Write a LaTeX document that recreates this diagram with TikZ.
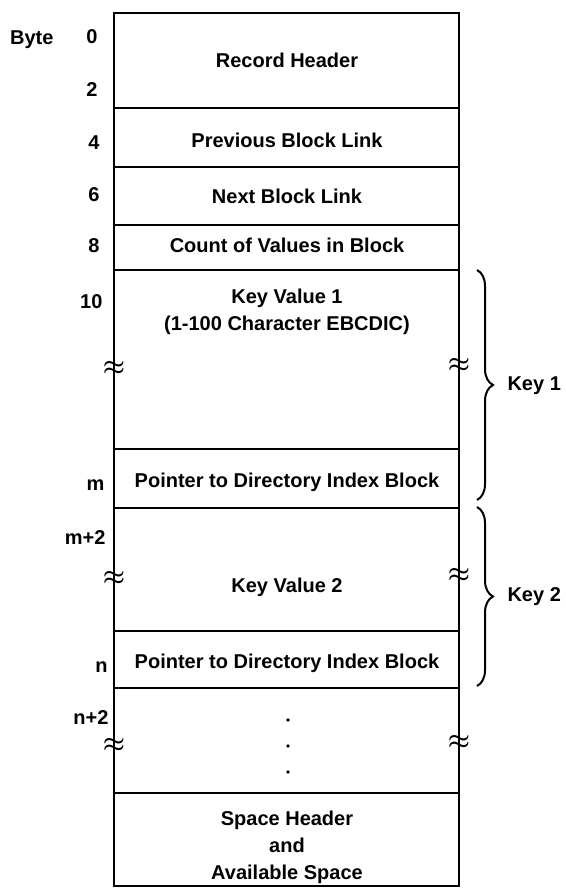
\documentclass[tikz,border=0pt]{standalone}
\usepackage{fontspec}
\setmainfont{Liberation Sans}
\usetikzlibrary{decorations.pathreplacing,positioning}

\begin{document}
\begin{tikzpicture}[x=1pt,y=-1pt,
    field/.style={font=\bfseries\fontsize{20}{27}\selectfont,align=center},
    byte/.style={font=\bfseries\fontsize{20}{22}\selectfont,anchor=east},
    gap/.style={font=\boldmath\fontsize{38}{38}\selectfont,inner sep=0pt}]
  \useasboundingbox (0,0) rectangle (565,890);

  % Draw record outline
  \draw[line width=2.4pt] (114,13) rectangle (459,886);

  % Dividers
  \foreach \y in {108,167,225,270,449,508,631,688,793}
    \draw[line width=1.3pt] (114,\y) -- (459,\y);

  % Fields
  \node[field] (hdr)   at (287,60)  {Record Header};
  \node[field] (prev)  at (287,140) {Previous Block Link};
  \node[field] (next)  at (287,196) {Next Block Link};
  \node[field] (count) at (287,245) {Count of Values in Block};
  \node[field] (kv1)   at (287,312) {Key Value 1\\(1-100 Character EBCDIC)};
  \node[field] (ptr1)  at (287,482) {Pointer to Directory Index Block};
  \node[field] (kv2)   at (287,587) {Key Value 2};
  \node[field] (ptr2)  at (287,663) {Pointer to Directory Index Block};
  \node[field] (space) at (287,847) {Space Header\\and\\Available Space};

  % Dots
  \foreach \y [count=\i] in {720,746,772}
    \fill (288,\y) circle (1.8pt) coordinate (dot\i);

  % Byte offsets
  \node[byte] (bytelbl) at (57,40) {Byte};
  \foreach \x/\y/\t [count=\i] in {101/37/0, 101/90/2, 103/143/4, 103/195/6,
      103/246/8, 106/302/10, 108/485/m, 109/538/m+2, 111/667/n, 112/718/n+2}
    \node[byte] (off\i) at (\x,\y) {\t};

  % Breaks in the record
  \foreach \y [count=\i] in {368,578,745} {
    \node[gap] (gl\i) at (114,\y) {$\approx$};
    \node[gap] (gr\i) at (459,\y-3) {$\approx$};
  }

  % Keys
  \draw[decorate,decoration={brace,amplitude=16pt},line width=2pt]
    (477,270) -- (477,500) coordinate[midway] (b1);
  \draw[decorate,decoration={brace,amplitude=16pt},line width=2pt]
    (477,507) -- (477,686) coordinate[midway] (b2);
  \node[field,anchor=west] (key1) at (504,386) {Key 1};
  \node[field,anchor=west] (key2) at (504,597) {Key 2};
\end{tikzpicture}
\end{document}
